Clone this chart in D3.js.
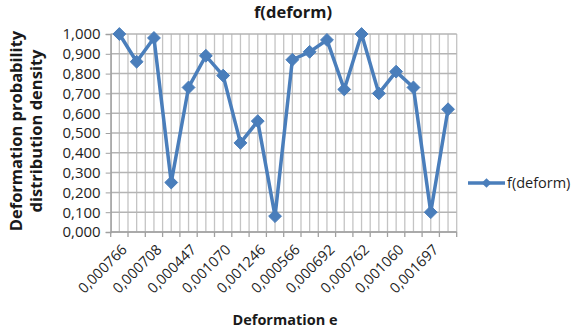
<!DOCTYPE html>
<html><head><meta charset="utf-8">
<script src="https://cdn.jsdelivr.net/npm/d3@7"></script>
<style>body{margin:0;background:#fff}svg{display:block}text{font-family:"Open Sans",sans-serif}</style>
</head><body>
<svg id="c" width="579" height="329"></svg>
<script>
// Values (20 categories, labels shown every second category)
const values = [1.00,0.86,0.98,0.25,0.73,0.89,0.79,0.45,0.56,0.08,0.87,0.91,0.97,0.72,1.00,0.70,0.81,0.73,0.10,0.62];
const tickLabels = ["0,000766","0,000708","0,000447","0,001070","0,001246","0,000566","0,000692","0,000762","0,001060","0,001697"];
const yTicks = [0,0.1,0.2,0.3,0.4,0.5,0.6,0.7,0.8,0.9,1.0];
const seriesName = "f(deform)";

const svg = d3.select("#c");
const L=110.7,R=456.7,T=34,B=232;
const idx = d3.range(values.length);
const x = d3.scaleBand().domain(idx).range([L,R]).padding(0);
const y = d3.scaleLinear().domain([0,1]).range([B,T]);
const fmt = v => d3.format(".3f")(v).replace(".",",");
const cx = i => x(i)+x.bandwidth()/2;

// vertical gridlines at band boundaries and centers
const vlines = [];
idx.forEach(i=>{vlines.push(x(i)); vlines.push(cx(i));});
vlines.push(R);
svg.append("g").selectAll("line").data(vlines).join("line")
  .attr("x1",d=>d).attr("x2",d=>d).attr("y1",T).attr("y2",B)
  .attr("stroke","#c4c4c4").attr("stroke-width",1.3);
// horizontal gridlines
svg.append("g").selectAll("line").data(yTicks).join("line")
  .attr("x1",L).attr("x2",R).attr("y1",d=>y(d)).attr("y2",d=>y(d))
  .attr("stroke","#b4b4b4").attr("stroke-width",1.5);

// y axis
const ya = svg.append("g").attr("transform",`translate(${L},0)`)
  .call(d3.axisLeft(y).tickValues(yTicks).tickFormat(fmt).tickSize(5).tickPadding(5));
ya.select(".domain").attr("stroke","#a0a0a0").attr("stroke-width",1.3);
ya.selectAll(".tick line").attr("stroke","#a0a0a0");
ya.selectAll("text").attr("font-size","15px").attr("fill","#1e1e1e");

// x axis: ticks at band boundaries
const xa = svg.append("g");
xa.append("line").attr("x1",L).attr("x2",R).attr("y1",B).attr("y2",B).attr("stroke","#a0a0a0").attr("stroke-width",1.3);
xa.selectAll("line.t").data(idx.concat([values.length])).join("line").attr("class","t")
  .attr("x1",i=>i<values.length?x(i):R).attr("x2",i=>i<values.length?x(i):R)
  .attr("y1",B).attr("y2",B+5).attr("stroke","#a0a0a0").attr("stroke-width",1.3);
xa.selectAll("text").data(tickLabels).join("text")
  .attr("transform",(d,k)=>`translate(${cx(k*2)+5},${B+15}) rotate(-45)`)
  .attr("text-anchor","end").attr("dy","0.35em")
  .attr("font-size","14.5px").attr("fill","#1e1e1e").text(d=>d);

// line
const color = "#4a7ebb";
svg.append("path").datum(values)
  .attr("d",d3.line().x((d,i)=>cx(i)).y(d=>y(d)))
  .attr("fill","none").attr("stroke",color).attr("stroke-width",3.5).attr("stroke-linejoin","round");
const diamond = d3.symbol().type(d3.symbolDiamond2).size(105);
svg.append("g").selectAll("path").data(values).join("path")
  .attr("d",diamond).attr("transform",(d,i)=>`translate(${cx(i)},${y(d)})`)
  .attr("fill",color).attr("stroke",color).attr("stroke-width",1);

// titles
svg.append("text").attr("x",293).attr("y",18).attr("text-anchor","middle")
  .attr("font-size","16.5px").attr("font-weight","bold").attr("fill","#1a1a1a").text("f(deform)");
svg.append("text").attr("x",285).attr("y",325).attr("text-anchor","middle")
  .attr("font-size","14.5px").attr("font-weight","bold").attr("fill","#1a1a1a").text("Deformation e");
const yt = svg.append("text").attr("transform","translate(0,131) rotate(-90)")
  .attr("text-anchor","middle").attr("font-size","16.5px").attr("font-weight","bold").attr("fill","#1a1a1a");
yt.append("tspan").attr("x",0).attr("y",22).text("Deformation probability");
yt.append("tspan").attr("x",0).attr("y",42).text("distribution density");

// legend
const lg = svg.append("g").attr("transform","translate(468,183)");
lg.append("line").attr("x1",0).attr("x2",37).attr("stroke",color).attr("stroke-width",3.5);
lg.append("path").attr("d",d3.symbol().type(d3.symbolDiamond2).size(60)).attr("transform","translate(18.5,0)").attr("fill",color);
lg.append("text").attr("x",39).attr("y",0).attr("dy","0.35em").attr("font-size","14.5px").attr("fill","#1e1e1e").text(seriesName);
</script>
</body></html>
